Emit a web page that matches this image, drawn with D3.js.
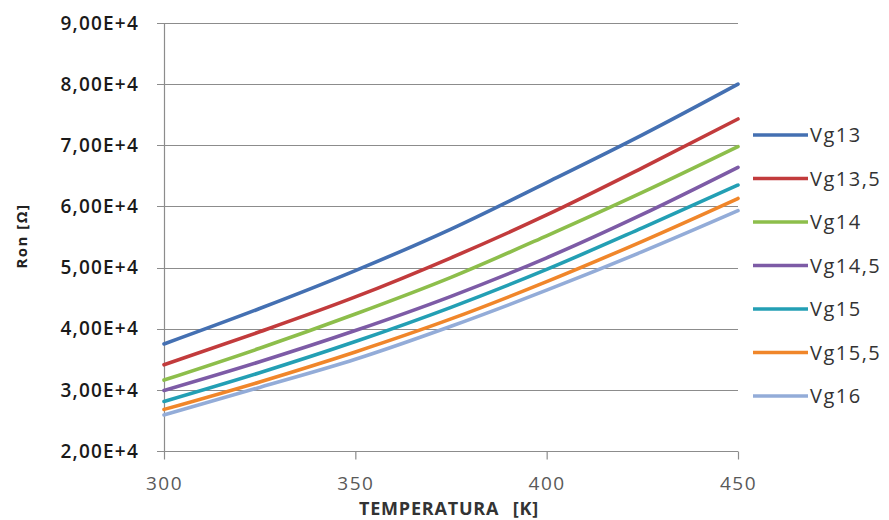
<!DOCTYPE html>
<html>
<head>
<meta charset="utf-8">
<script src="https://cdn.jsdelivr.net/npm/d3@7/dist/d3.min.js"></script>
<style>
  body { margin: 0; background: #fff; }
  svg { display: block; font-family: "Open Sans", "DejaVu Sans", sans-serif; }
</style>
</head>
<body>
<div id="chart"></div>
<script>
// Temperature points (K)
const temps = [300, 325, 350, 375, 400, 425, 450];

// Ron values (Ohm) per gate voltage
const vg13   = [37500, 43300, 49500, 56300, 63900, 71700, 80000];
const vg13_5 = [34100, 39500, 45200, 51600, 58600, 66300, 74300];
const vg14   = [31600, 36800, 42400, 48400, 55200, 62300, 69800];
const vg14_5 = [29900, 34600, 39700, 45300, 51600, 58700, 66400];
const vg15   = [28100, 32800, 37900, 43500, 49700, 56500, 63500];
const vg15_5 = [26800, 31300, 36200, 41600, 47700, 54300, 61300];
const vg16   = [25900, 30400, 35000, 40400, 46300, 52600, 59300];

const seriesNames = ['Vg13', 'Vg13,5', 'Vg14', 'Vg14,5', 'Vg15', 'Vg15,5', 'Vg16'];
const seriesValues = [vg13, vg13_5, vg14, vg14_5, vg15, vg15_5, vg16];
const colors = ['#4470B2', '#C23B3C', '#8DBE4B', '#7D5BA6', '#239FB4', '#F0862A', '#93ACD8'];

const xTicks = [300, 350, 400, 450];
const yTicks = [20000, 30000, 40000, 50000, 60000, 70000, 80000, 90000];
const yTickLabels = ['2,00E+4', '3,00E+4', '4,00E+4', '5,00E+4', '6,00E+4', '7,00E+4', '8,00E+4', '9,00E+4'];

const width = 889, height = 520;
const margin = {left: 164, right: 151, top: 23, bottom: 69};

const svg = d3.select('#chart').append('svg')
  .attr('width', width)
  .attr('height', height);

const x = d3.scaleLinear().domain([300, 450]).range([margin.left, width - margin.right]);
const y = d3.scaleLinear().domain([20000, 90000]).range([height - margin.bottom, margin.top]);

// gridlines
svg.append('g')
  .selectAll('line')
  .data(yTicks)
  .join('line')
  .attr('x1', x(300) - 7)
  .attr('x2', x(450))
  .attr('y1', d => Math.round(y(d)) + 0.5)
  .attr('y2', d => Math.round(y(d)) + 0.5)
  .attr('stroke', '#8c8c8c')
  .attr('stroke-width', 1.2);

// y axis line
svg.append('line')
  .attr('x1', Math.round(x(300)) + 0.5)
  .attr('x2', Math.round(x(300)) + 0.5)
  .attr('y1', y(90000))
  .attr('y2', y(20000))
  .attr('stroke', '#8c8c8c')
  .attr('stroke-width', 1.2);

// x axis
const xAxis = svg.append('g')
  .attr('transform', `translate(0,${Math.round(y(20000)) + 0.5})`)
  .call(d3.axisBottom(x).tickValues(xTicks).tickSize(8).tickPadding(17).tickSizeOuter(0));
xAxis.select('.domain').remove();
xAxis.selectAll('line').attr('stroke', '#8c8c8c').attr('stroke-width', 1.2);
xAxis.selectAll('text')
  .attr('fill', '#595959')
  .style('font-size', '19px')
  .style('letter-spacing', '1.5px')
  .style('font-family', '"Open Sans", sans-serif');

// y tick labels
svg.append('g')
  .selectAll('text')
  .data(yTicks)
  .join('text')
  .attr('x', 139)
  .attr('y', d => y(d))
  .attr('dy', '0.35em')
  .attr('text-anchor', 'end')
  .attr('fill', '#1a1a1a')
  .style('font-size', '19px')
  .style('letter-spacing', '1.2px')
  .style('font-weight', '600')
  .text((d, i) => yTickLabels[i]);

// lines
const line = d3.line()
  .x((d, i) => x(temps[i]))
  .y(d => y(d))
  .curve(d3.curveMonotoneX);

svg.append('g')
  .selectAll('path')
  .data(seriesValues)
  .join('path')
  .attr('d', d => line(d))
  .attr('fill', 'none')
  .attr('stroke', (d, i) => colors[i])
  .attr('stroke-width', 3.6)
  .attr('stroke-linecap', 'round');

// axis titles
svg.append('text')
  .attr('x', 449)
  .attr('y', 509)
  .attr('dy', '0.35em')
  .attr('text-anchor', 'middle')
  .attr('fill', '#333')
  .style('font-size', '18px')
  .style('font-weight', 'bold')
  .style('letter-spacing', '0.8px')
  .style('word-spacing', '8px')
  .text('TEMPERATURA [K]');

svg.append('text')
  .attr('transform', 'translate(22,236) rotate(-90)')
  .attr('dy', '0.35em')
  .attr('text-anchor', 'middle')
  .attr('fill', '#222')
  .style('font-size', '15px')
  .style('font-weight', 'bold')
  .style('letter-spacing', '1.5px')
  .text('Ron [Ω]');

// legend
const legend = svg.append('g')
  .selectAll('g')
  .data(seriesNames)
  .join('g')
  .attr('transform', (d, i) => `translate(753,${135 + i * 43.5})`);

legend.append('line')
  .attr('x1', 0)
  .attr('x2', 55)
  .attr('stroke', (d, i) => colors[i])
  .attr('stroke-width', 3.6);

legend.append('text')
  .attr('x', 57)
  .attr('dy', '0.35em')
  .attr('fill', '#333')
  .style('font-size', '20px')
  .style('letter-spacing', '1.5px')
  .text(d => d);
</script>
</body>
</html>
